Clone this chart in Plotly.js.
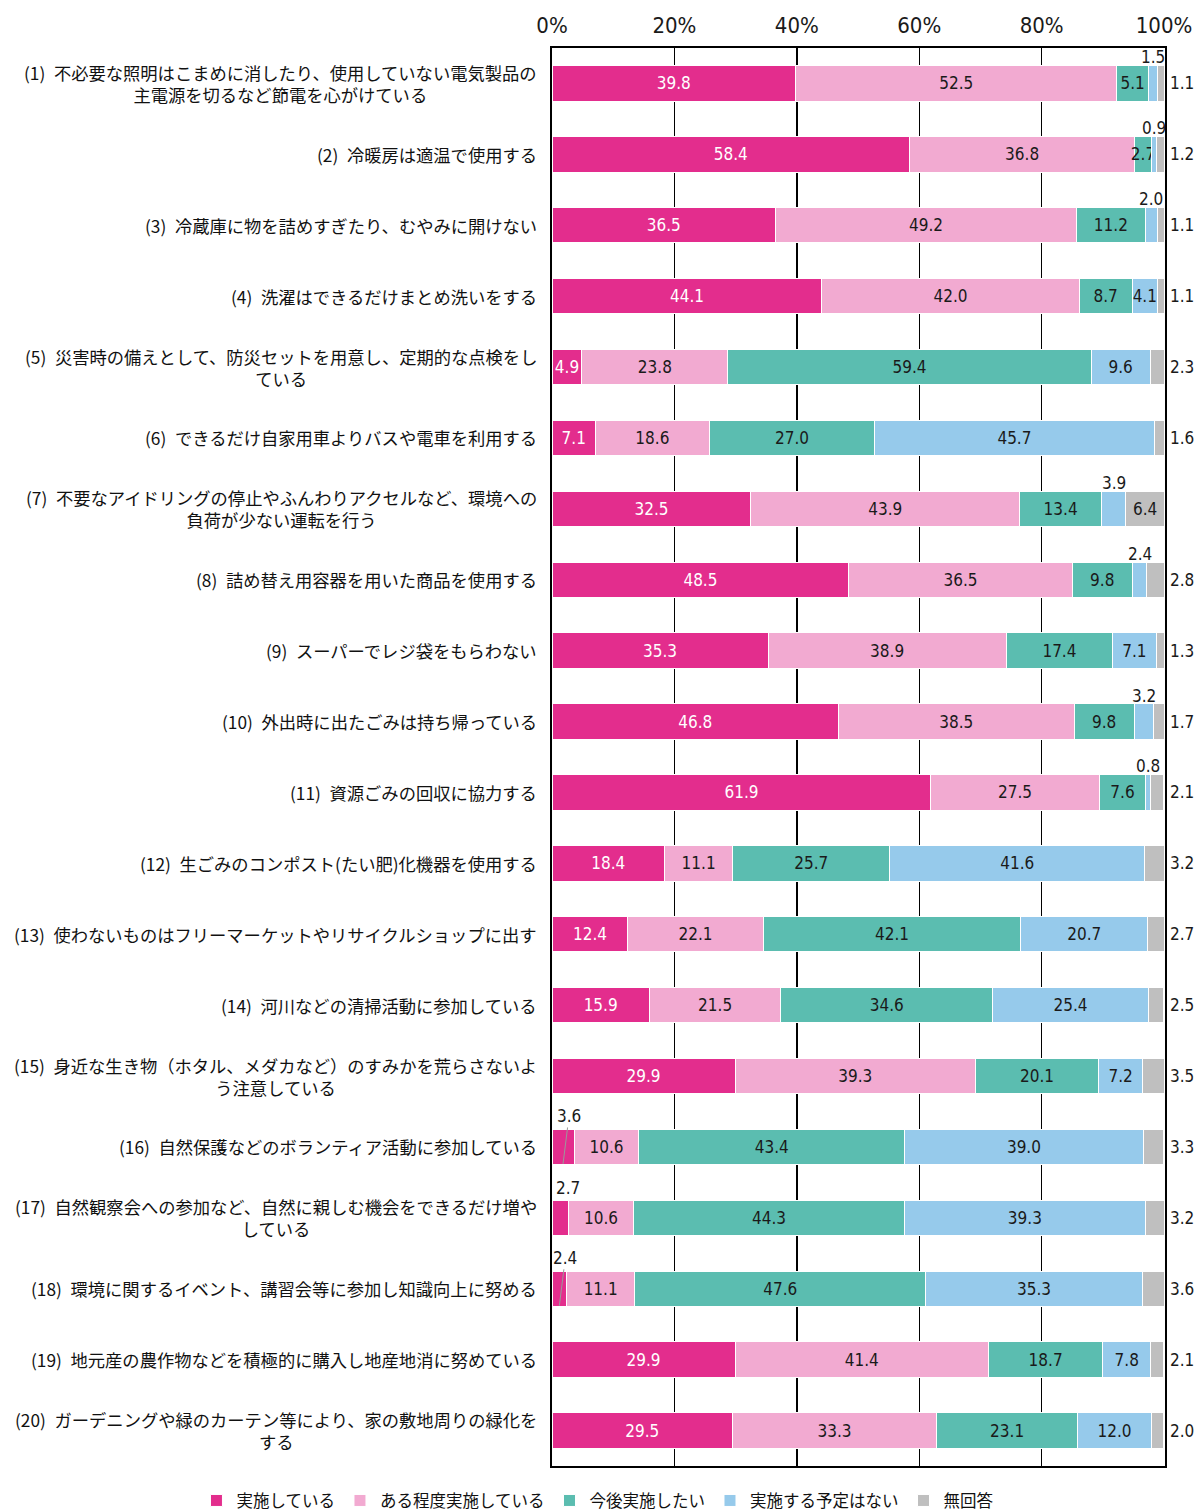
<!DOCTYPE html>
<html lang="ja">
<head>
<meta charset="utf-8">
<script src="https://cdn.plot.ly/plotly-3.0.1.min.js"></script>
<style>
  html, body { margin: 0; padding: 0; background: #fff; }
  #chart { width: 1201px; height: 1512px; }
</style>
</head>
<body>
<div id="chart"></div>
<script>
// 環境配慮行動の実施状況（%）
const categories = [
  "(1)\u2002不必要な照明はこまめに消したり、使用していない電気製品の<br>主電源を切るなど節電を心がけている",
  "(2)\u2002冷暖房は適温で使用する",
  "(3)\u2002冷蔵庫に物を詰めすぎたり、むやみに開けない",
  "(4)\u2002洗濯はできるだけまとめ洗いをする",
  "(5)\u2002災害時の備えとして、防災セットを用意し、定期的な点検をし<br>ている",
  "(6)\u2002できるだけ自家用車よりバスや電車を利用する",
  "(7)\u2002不要なアイドリングの停止やふんわりアクセルなど、環境への<br>負荷が少ない運転を行う",
  "(8)\u2002詰め替え用容器を用いた商品を使用する",
  "(9)\u2002スーパーでレジ袋をもらわない",
  "(10)\u2002外出時に出たごみは持ち帰っている",
  "(11)\u2002資源ごみの回収に協力する",
  "(12)\u2002生ごみのコンポスト(たい肥)化機器を使用する",
  "(13)\u2002使わないものはフリーマーケットやリサイクルショップに出す",
  "(14)\u2002河川などの清掃活動に参加している",
  "(15)\u2002身近な生き物（ホタル、メダカなど）のすみかを荒らさないよ<br>う注意している",
  "(16)\u2002自然保護などのボランティア活動に参加している",
  "(17)\u2002自然観察会への参加など、自然に親しむ機会をできるだけ増や<br>している",
  "(18)\u2002環境に関するイベント、講習会等に参加し知識向上に努める",
  "(19)\u2002地元産の農作物などを積極的に購入し地産地消に努めている",
  "(20)\u2002ガーデニングや緑のカーテン等により、家の敷地周りの緑化を<br>する"
];

const seriesNames = ["実施している", "ある程度実施している", "今後実施したい", "実施する予定はない", "無回答"];

const jisshi    = [39.8, 58.4, 36.5, 44.1,  4.9,  7.1, 32.5, 48.5, 35.3, 46.8, 61.9, 18.4, 12.4, 15.9, 29.9,  3.6,  2.7,  2.4, 29.9, 29.5];
const teido     = [52.5, 36.8, 49.2, 42.0, 23.8, 18.6, 43.9, 36.5, 38.9, 38.5, 27.5, 11.1, 22.1, 21.5, 39.3, 10.6, 10.6, 11.1, 41.4, 33.3];
const kongo     = [ 5.1,  2.7, 11.2,  8.7, 59.4, 27.0, 13.4,  9.8, 17.4,  9.8,  7.6, 25.7, 42.1, 34.6, 20.1, 43.4, 44.3, 47.6, 18.7, 23.1];
const yoteinashi= [ 1.5,  0.9,  2.0,  4.1,  9.6, 45.7,  3.9,  2.4,  7.1,  3.2,  0.8, 41.6, 20.7, 25.4,  7.2, 39.0, 39.3, 35.3,  7.8, 12.0];
const mukaitou  = [ 1.1,  1.2,  1.1,  1.1,  2.3,  1.6,  6.4,  2.8,  1.3,  1.7,  2.1,  3.2,  2.7,  2.5,  3.5,  3.3,  3.2,  3.6,  2.1,  2.0];

const tickValues = [0, 20, 40, 60, 80, 100];
const tickLabels = ["0%", "20%", "40%", "60%", "80%", "100%"];

const seriesValues = [jisshi, teido, kongo, yoteinashi, mukaitou];
const colors = ["#E32D8D", "#F2AAD1", "#5BBDB0", "#96CAEB", "#BFBFBF"];
const textColors = ["#ffffff", "#1a1a1a", "#1a1a1a", "#1a1a1a", "#1a1a1a"];

// labels narrower than the segment are moved out of the bar
const insideMin = [4, 0, 0, 4, 5];
// short segments in the first series whose label gets a leader line
const leaderRows = [15, 17];

const numFont = "'Liberation Sans Narrow', 'DejaVu Sans Condensed', 'Roboto Condensed', 'Noto Sans CJK JP', sans-serif";
const jpFont = "'Noto Sans CJK JP', 'Noto Sans', sans-serif";
const fmt = v => v.toFixed(1);

const traces = seriesValues.map((vals, s) => ({
  type: "bar",
  orientation: "h",
  name: seriesNames[s],
  y: categories,
  x: vals,
  marker: { color: colors[s], line: { color: "#ffffff", width: 1 } },
  text: vals.map(v => (v >= insideMin[s] ? fmt(v) : "")),
  textposition: "inside",
  insidetextanchor: "middle",
  textangle: 0,
  constraintext: "none",
  insidetextfont: { family: numFont, size: 17, color: textColors[s] },
  hoverinfo: "name+x",
  cliponaxis: false
}));

const annotations = [];

// category labels, wrapped lines centred under the first line
categories.forEach(c => {
  annotations.push({
    xref: "paper", yref: "y", x: 0, y: c,
    xanchor: "right", yanchor: "middle", xshift: -13,
    align: "center", showarrow: false,
    text: c,
    font: { family: jpFont, size: 17.3, color: "#111111" }
  });
});

categories.forEach((c, i) => {
  // no-answer share written beside the 100% line
  if (mukaitou[i] < insideMin[4]) {
    annotations.push({
      xref: "paper", yref: "y", x: 1, y: c,
      xanchor: "left", yanchor: "middle", xshift: 3,
      showarrow: false, text: fmt(mukaitou[i]),
      font: { family: numFont, size: 17, color: "#1a1a1a" }
    });
  }
  // small "no plan" segments labelled above the bar
  if (yoteinashi[i] < insideMin[3]) {
    const mid = jisshi[i] + teido[i] + kongo[i] + yoteinashi[i] / 2;
    annotations.push({
      xref: "x", yref: "y", x: mid, y: c,
      xanchor: "center", yanchor: "middle", yshift: 26,
      showarrow: false, text: fmt(yoteinashi[i]),
      font: { family: numFont, size: 17, color: "#1a1a1a" }
    });
  }
  // small first-series segments labelled above-left
  if (jisshi[i] < insideMin[0]) {
    const mid = jisshi[i] / 2;
    if (leaderRows.includes(i)) {
      annotations.push({
        xref: "x", yref: "y", x: mid, y: c,
        yshift: -17, ax: 6, ay: -48,
        showarrow: true, arrowhead: 0, arrowwidth: 1, arrowcolor: "#9a9a9a",
        standoff: 0, startstandoff: 0,
        text: fmt(jisshi[i]),
        font: { family: numFont, size: 17, color: "#1a1a1a" }
      });
    } else {
      annotations.push({
        xref: "x", yref: "y", x: mid, y: c,
        xanchor: "center", yanchor: "middle", xshift: 8, yshift: 30,
        showarrow: false, text: fmt(jisshi[i]),
        font: { family: numFont, size: 17, color: "#1a1a1a" }
      });
    }
  }
});

const layout = {
  width: 1201,
  height: 1512,
  margin: { l: 552, r: 36, t: 48, b: 46, autoexpand: false },
  paper_bgcolor: "#ffffff",
  plot_bgcolor: "#ffffff",
  barmode: "stack",
  bargap: 0.5,
  showlegend: true,
  legend: {
    orientation: "h",
    traceorder: "normal",
    x: -0.58, xanchor: "left",
    y: -0.0245, yanchor: "middle",
    font: { family: jpFont, size: 16.5, color: "#111111" },
    itemwidth: 30,
    tracegroupgap: 0
  },
  xaxis: {
    side: "top",
    // rounded shares can total slightly above 100
    range: [0, 100.15],
    tickvals: tickValues,
    ticktext: tickLabels,
    tickfont: { family: numFont, size: 22, color: "#1a1a1a" },
    ticks: "",
    ticklabelstandoff: 4,
    showgrid: true,
    gridcolor: "#000000",
    gridwidth: 1.5,
    zeroline: false,
    showline: true,
    linecolor: "#000000",
    linewidth: 2,
    mirror: true,
    fixedrange: true
  },
  yaxis: {
    type: "category",
    autorange: "reversed",
    showticklabels: false,
    ticks: "",
    showgrid: false,
    zeroline: false,
    showline: true,
    linecolor: "#000000",
    linewidth: 2,
    mirror: true,
    fixedrange: true
  },
  annotations: annotations
};

Plotly.newPlot("chart", traces, layout, { displayModeBar: false, staticPlot: true });
</script>
</body>
</html>
